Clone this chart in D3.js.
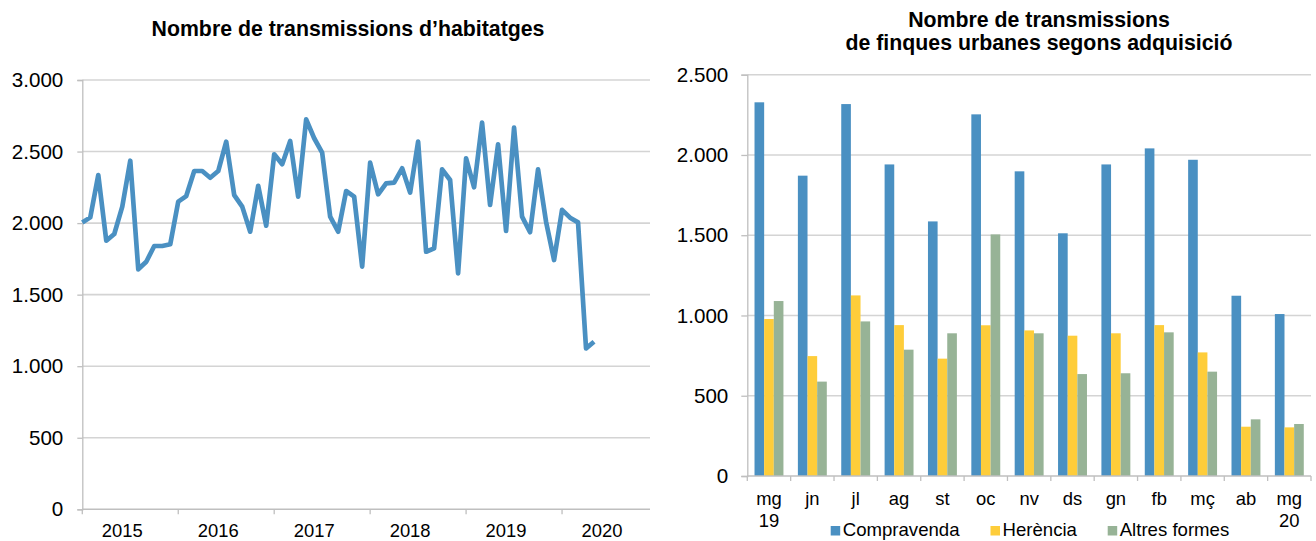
<!DOCTYPE html>
<html><head><meta charset="utf-8">
<script src="https://cdn.jsdelivr.net/npm/d3@7"></script>
<style>
html,body{margin:0;padding:0;background:#fff;}
svg{display:block;font-family:"Liberation Sans",Arial,sans-serif;}
</style></head>
<body>
<svg id="c" width="1316" height="541"></svg>
<script>
// ---- Left chart data: monthly housing transmissions Jan 2015 – May 2020 ----
const years = ["2015","2016","2017","2018","2019","2020"];
const monthlyValues = [
  2005,2040,2336,1877,1924,2115,2436,1677,1730,1840,1840,1852,
  2150,2189,2364,2364,2317,2364,2569,2196,2115,1940,2261,1982,
  2481,2411,2574,2185,2725,2593,2492,2045,1940,2224,2185,1696,
  2422,2201,2278,2283,2383,2213,2569,1800,1824,2376,2301,1649,
  2453,2250,2702,2127,2551,1945,2667,2045,1936,2376,2010,1742,
  2092,2038,2005,1125,1171
];
const leftTicks = [0,500,1000,1500,2000,2500,3000];

// ---- Right chart data ----
const months = ["mg|19","jn","jl","ag","st","oc","nv","ds","gn","fb","mç","ab","mg|20"];
const seriesNames = ["Compravenda","Herència","Altres formes"];
const compravenda = [2328,1871,2317,1941,1586,2253,1898,1512,1941,2041,1970,1123,1009];
const herencia    = [978,747,1125,940,731,939,907,874,889,940,770,307,303];
const altres      = [1090,588,963,787,889,1505,889,635,640,895,650,353,324];
const rightTicks = [0,500,1000,1500,2000,2500];

const colors = ["#4a90c2","#fecd3a","#97b396"];
const fmt = v => d3.format(",")(v).replace(/,/g,".");
const svg = d3.select("#c");
const gridCol = "#d4d4d4", axisCol = "#bfbfbf";

// ================= LEFT CHART =================
{
  const nCat = 72; // Jan 2015 .. Dec 2020
  const x = d3.scaleLinear().domain([0, nCat-1]).range([82.3, 650]);
  const y = d3.scaleLinear().domain([0, 3000]).range([509.3, 80]);
  const g = svg.append("g");
  g.selectAll("line.grid").data(leftTicks.filter(t=>t>0)).join("line")
    .attr("x1",82.3).attr("x2",650).attr("y1",d=>y(d)).attr("y2",d=>y(d))
    .attr("stroke",gridCol).attr("stroke-width",1.6);
  const ya = d3.axisLeft(y).tickValues(leftTicks).tickFormat(fmt).tickSize(5).tickPadding(14);
  const yg = g.append("g").attr("transform","translate(82.3,0)").call(ya);
  yg.select(".domain").attr("stroke",axisCol).attr("stroke-width",1.3);
  yg.selectAll(".tick line").attr("stroke",axisCol).attr("stroke-width",1.3);
  yg.selectAll("text").attr("font-size",20.6).attr("fill","#000").attr("font-family","Liberation Sans, Arial, sans-serif");
  g.append("line").attr("x1",82.3).attr("x2",650).attr("y1",y(0)).attr("y2",y(0))
    .attr("stroke",axisCol).attr("stroke-width",1.6);
  const tickIdx = years.map((d,i)=>i*12);
  g.selectAll("line.xt").data(tickIdx).join("line")
    .attr("x1",d=>x(d)).attr("x2",d=>x(d)).attr("y1",y(0)).attr("y2",y(0)+5)
    .attr("stroke",axisCol).attr("stroke-width",1.3);
  g.selectAll("text.xl").data(years).join("text")
    .attr("x",(d,i)=>x(i*12+5)).attr("y",536.5).attr("text-anchor","middle")
    .attr("font-size",18.4).attr("fill","#000").text(d=>d);
  const line = d3.line().x((d,i)=>x(i)).y(d=>y(d));
  g.append("path").datum(monthlyValues).attr("d",line).attr("fill","none")
    .attr("stroke",colors[0]).attr("stroke-width",4.7).attr("stroke-linejoin","round");
  g.append("text").attr("x",348).attr("y",35.7).attr("text-anchor","middle")
    .attr("font-size",21.3).attr("font-weight","bold").text("Nombre de transmissions d’habitatges");
}

// ================= RIGHT CHART =================
{
  const x0 = d3.scaleBand().domain(months).range([747.3, 1311]).paddingInner(0).paddingOuter(0);
  const bw = x0.bandwidth();
  const x1 = d3.scaleBand().domain(seriesNames).range([bw*0.1665, bw*0.8335]).padding(0);
  const y = d3.scaleLinear().domain([0, 2500]).range([476, 74.7]);
  const g = svg.append("g");
  g.selectAll("line.grid").data(rightTicks.filter(t=>t>0)).join("line")
    .attr("x1",747.3).attr("x2",1311).attr("y1",d=>y(d)).attr("y2",d=>y(d))
    .attr("stroke",gridCol).attr("stroke-width",1.6);
  const ya = d3.axisLeft(y).tickValues(rightTicks).tickFormat(fmt).tickSize(6).tickPadding(13);
  const yg = g.append("g").attr("transform","translate(747.3,0)").call(ya);
  yg.select(".domain").attr("stroke",axisCol).attr("stroke-width",1.3);
  yg.selectAll(".tick line").attr("stroke",axisCol).attr("stroke-width",1.3);
  yg.selectAll("text").attr("font-size",20.6).attr("fill","#000").attr("font-family","Liberation Sans, Arial, sans-serif");

  const series = [compravenda, herencia, altres];
  series.forEach((vals, si) => {
    g.selectAll("rect.s"+si).data(vals).join("rect")
      .attr("x",(d,i)=>x0(months[i]) + x1(seriesNames[si]))
      .attr("width",x1.bandwidth())
      .attr("y",d=>y(d)).attr("height",d=>y(0)-y(d))
      .attr("fill",colors[si]);
  });
  g.append("line").attr("x1",747.3).attr("x2",1311).attr("y1",y(0)).attr("y2",y(0))
    .attr("stroke",axisCol).attr("stroke-width",1.6);
  const bounds = months.map(m=>x0(m)).concat([1311]);
  g.selectAll("line.xt").data(bounds).join("line")
    .attr("x1",d=>d).attr("x2",d=>d).attr("y1",y(0)).attr("y2",y(0)+5)
    .attr("stroke",axisCol).attr("stroke-width",1.3);
  const lbl = g.selectAll("text.xl").data(months).join("text")
    .attr("text-anchor","middle").attr("font-size",18.4).attr("fill","#000");
  lbl.each(function(d){
    const parts = d.split("|");
    const t = d3.select(this);
    const cx = x0(d) + bw/2;
    parts.forEach((p,k)=>{
      t.append("tspan").attr("x",cx).attr("y",505 + k*21.5).text(p);
    });
  });
  const legX = [830.7, 990.5, 1107.7];
  const lg = g.selectAll("g.leg").data(seriesNames).join("g")
    .attr("transform",(d,i)=>`translate(${legX[i]},0)`);
  lg.append("rect").attr("x",0).attr("y",526).attr("width",9.5).attr("height",9.5)
    .attr("fill",(d,i)=>colors[i]);
  lg.append("text").attr("x",12).attr("y",536).attr("font-size",18.6).attr("fill","#000").text(d=>d);
  const tt = g.append("text").attr("text-anchor","middle").attr("font-size",21.3).attr("font-weight","bold");
  tt.append("tspan").attr("x",1039).attr("y",26.7).text("Nombre de transmissions");
  tt.append("tspan").attr("x",1039).attr("y",50).text("de finques urbanes segons adquisició");
}
</script>
</body></html>
